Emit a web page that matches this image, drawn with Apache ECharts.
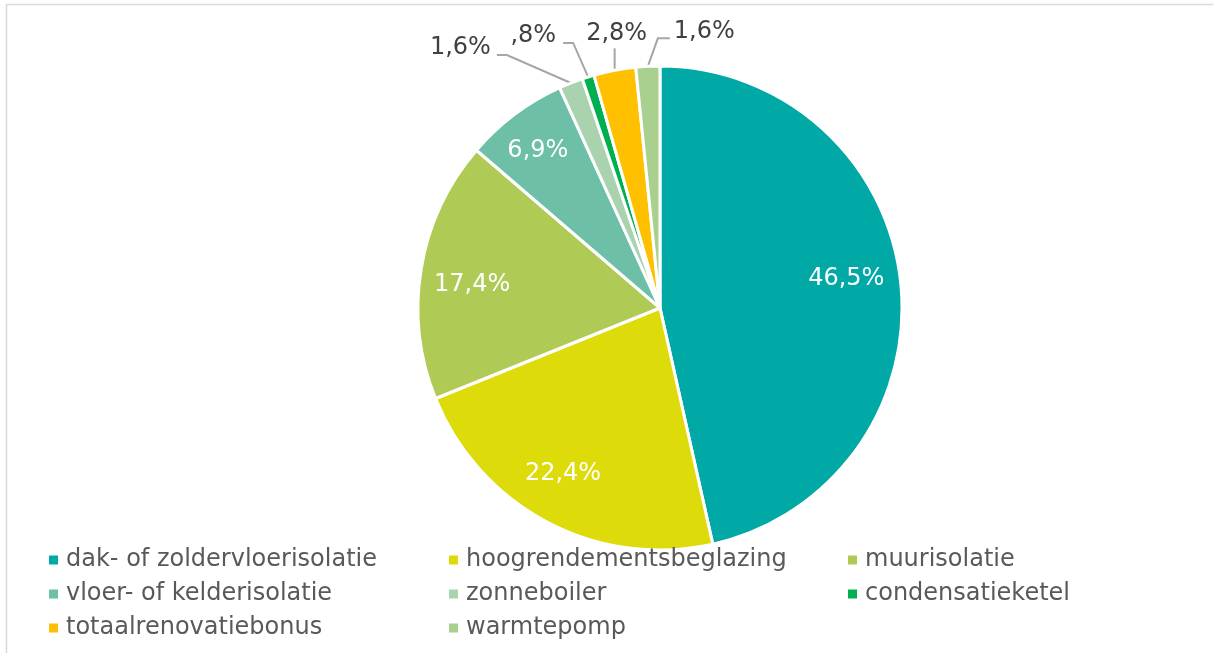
<!DOCTYPE html>
<html>
<head>
<meta charset="utf-8">
<script src="https://cdn.jsdelivr.net/npm/echarts@6/dist/echarts.min.js"></script>
<style>
html,body{margin:0;padding:0;background:#fff;}
#c{width:1213px;height:653px;}
</style>
</head>
<body>
<div id="c"></div>
<script>
const categories = [
  'dak- of zoldervloerisolatie',
  'hoogrendementsbeglazing',
  'muurisolatie',
  'vloer- of kelderisolatie',
  'zonneboiler',
  'condensatieketel',
  'totaalrenovatiebonus',
  'warmtepomp'
];
const values = [46.5, 22.4, 17.4, 6.9, 1.6, 0.8, 2.8, 1.6];

const colors = ['#00A9A6', '#DDDB09', '#B0CB55', '#6DBFA7', '#A9D3AF', '#00B050', '#FFC000', '#A9D08E'];
const FONT = 'DejaVu Sans';
const CX = 660, CY = 308, R = 242;

// relative label offsets (bend, end, text anchor) for outside labels, keyed by index
const outsideStyle = {
  4: {bend: [-64, -28], end: [-74, -28], text: [-80, -35], align: 'right'},
  5: {bend: [-15, -34], end: [-25, -34], text: [-32, -41], align: 'right'},
  6: {bend: [0, -22], end: [0, -22], text: [2, -37], align: 'center'},
  7: {bend: [10, -28], end: [22, -28], text: [26, -35], align: 'left'}
};
// small nudges for inside labels
const insideNudge = {0: [-6, -8], 1: [-7, -5], 2: [3, 8], 3: [-6, -3]};

function fmt(v) {
  let s = v.toFixed(1).replace('.', ',');
  if (s.startsWith('0')) s = s.slice(1);
  return s + '%';
}

const data = categories.map((name, i) => {
  const small = values[i] < 5;
  return {
    name: name,
    value: values[i],
    itemStyle: {color: colors[i]},
    label: small ? {position: 'outside', color: '#404040'} : {position: 'inside', color: '#ffffff'},
    labelLine: {show: small}
  };
});

function legend(names, left) {
  return {
    orient: 'vertical',
    left: left,
    top: 548,
    padding: 0,
    data: names,
    icon: 'rect',
    itemWidth: 9,
    itemHeight: 9,
    itemGap: 10,
    selectedMode: false,
    itemStyle: {borderWidth: 0},
    textStyle: {fontFamily: FONT, fontSize: 24, lineHeight: 24, color: '#595959', padding: [0, 0, 0, 3]}
  };
}

const chart = echarts.init(document.getElementById('c'), null, {renderer: 'canvas'});
chart.setOption({
  backgroundColor: '#ffffff',
  animation: false,
  graphic: [{
    type: 'rect',
    shape: {x: 6.5, y: 4.5, width: 1400, height: 800},
    style: {fill: 'none', stroke: '#d9d9d9', lineWidth: 1.5},
    silent: true
  }],
  legend: [
    legend([categories[0], categories[3], categories[6]], 49),
    legend([categories[1], categories[4], categories[7]], 449),
    legend([categories[2], categories[5]], 848)
  ],
  series: [{
    type: 'pie',
    center: [CX, CY],
    radius: R,
    startAngle: 90,
    clockwise: true,
    avoidLabelOverlap: false,
    itemStyle: {borderColor: '#ffffff', borderWidth: 3},
    label: {
      show: true,
      fontFamily: FONT,
      fontSize: 24,
      formatter: p => fmt(p.value)
    },
    labelLine: {lineStyle: {color: '#A6A6A6', width: 2}, length: 15, length2: 10},
    emphasis: {disabled: true},
    data: data,
    labelLayout: function (params) {
      const i = params.dataIndex;
      const st = outsideStyle[i];
      if (st) {
        if (!(params.labelLinePoints && params.labelLinePoints[0])) return {};
        const p0 = params.labelLinePoints[0];
        const x0 = p0[0], y0 = p0[1];
        return {
          x: x0 + st.text[0],
          y: y0 + st.text[1],
          align: st.align,
          verticalAlign: 'middle',
          labelLinePoints: [[x0, y0], [x0 + st.bend[0], y0 + st.bend[1]], [x0 + st.end[0], y0 + st.end[1]]]
        };
      }
      const r = params.labelRect;
      const lx = r.x + r.width / 2, ly = r.y + r.height / 2;
      const k = 1.56;
      const n = insideNudge[i] || [0, 0];
      return {
        x: CX + (lx - CX) * k + n[0],
        y: CY + (ly - CY) * k + n[1],
        align: 'center',
        verticalAlign: 'middle'
      };
    }
  }]
});
</script>
</body>
</html>
